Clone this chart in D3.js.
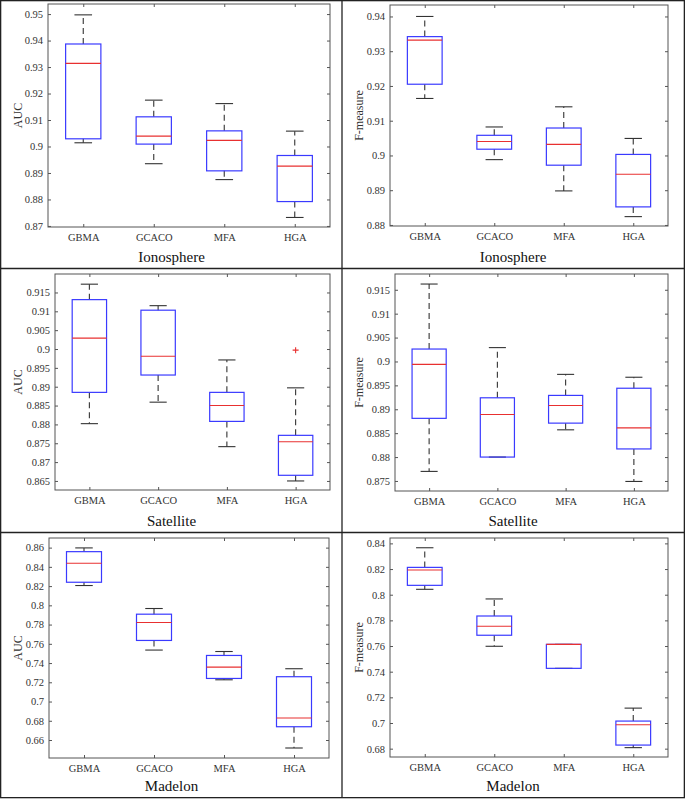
<!DOCTYPE html>
<html>
<head>
<meta charset="utf-8">
<script src="https://cdn.jsdelivr.net/npm/d3@7/dist/d3.min.js"></script>
<style>
  html, body { margin: 0; padding: 0; background: #fff; }
  svg { display: block; }
</style>
</head>
<body>
<script>
// ---------------- DATA ----------------
const categories = ["GBMA", "GCACO", "MFA", "HGA"];
// each entry: [lower whisker, Q1, median, Q3, upper whisker]
const ionosphereAUC = [[0.9014, 0.9029, 0.9314, 0.9387, 0.9497], [0.8935, 0.9009, 0.9039, 0.9112, 0.9175], [0.8875, 0.8908, 0.9023, 0.9059, 0.9162], [0.8732, 0.8792, 0.8926, 0.8966, 0.9058]];
const ionosphereF = [[0.9164, 0.9205, 0.9332, 0.9342, 0.9400], [0.8988, 0.9018, 0.9040, 0.9058, 0.9082], [0.8898, 0.8972, 0.9032, 0.9079, 0.9140], [0.8824, 0.8852, 0.8946, 0.9003, 0.9049]];
const satelliteAUC = [[0.8802, 0.8885, 0.9029, 0.9131, 0.9172], [0.8859, 0.8931, 0.8981, 0.9103, 0.9115], [0.8741, 0.8808, 0.8850, 0.8885, 0.8971], [0.8650, 0.8665, 0.8754, 0.8771, 0.8897]];
const satelliteAUCOutliers = [[], [], [], [0.8997]];
const satelliteF = [[0.8770, 0.8881, 0.8994, 0.9026, 0.9162], [0.8800, 0.8800, 0.8889, 0.8924, 0.9029], [0.8857, 0.8871, 0.8908, 0.8929, 0.8973], [0.8749, 0.8817, 0.8861, 0.8944, 0.8967]];
const madelonAUC = [[0.8206, 0.8240, 0.8437, 0.8558, 0.8597], [0.7535, 0.7635, 0.7822, 0.7908, 0.7967], [0.7226, 0.7240, 0.7358, 0.7479, 0.7520], [0.6517, 0.6738, 0.6829, 0.7258, 0.7341]];
const madelonF = [[0.8042, 0.8073, 0.8192, 0.8213, 0.8366], [0.7598, 0.7684, 0.7754, 0.7834, 0.7967], [0.7426, 0.7426, 0.7613, 0.7613, 0.7613], [0.6808, 0.6828, 0.6986, 0.7015, 0.7116]];
const noOutliers = [[], [], [], []];

const ticksIonoAUC = [0.87, 0.88, 0.89, 0.90, 0.91, 0.92, 0.93, 0.94, 0.95];
const labelsIonoAUC = ["0.87", "0.88", "0.89", "0.9", "0.91", "0.92", "0.93", "0.94", "0.95"];
const ticksIonoF = [0.88, 0.89, 0.90, 0.91, 0.92, 0.93, 0.94];
const labelsIonoF = ["0.88", "0.89", "0.9", "0.91", "0.92", "0.93", "0.94"];
const ticksSatAUC = [0.865, 0.870, 0.875, 0.880, 0.885, 0.890, 0.895, 0.900, 0.905, 0.910, 0.915];
const labelsSatAUC = ["0.865", "0.87", "0.875", "0.88", "0.885", "0.89", "0.895", "0.9", "0.905", "0.91", "0.915"];
const ticksSatF = [0.875, 0.880, 0.885, 0.890, 0.895, 0.900, 0.905, 0.910, 0.915];
const labelsSatF = ["0.875", "0.88", "0.885", "0.89", "0.895", "0.9", "0.905", "0.91", "0.915"];
const ticksMadAUC = [0.66, 0.68, 0.70, 0.72, 0.74, 0.76, 0.78, 0.80, 0.82, 0.84, 0.86];
const labelsMadAUC = ["0.66", "0.68", "0.7", "0.72", "0.74", "0.76", "0.78", "0.8", "0.82", "0.84", "0.86"];
const ticksMadF = [0.68, 0.70, 0.72, 0.74, 0.76, 0.78, 0.80, 0.82, 0.84];
const labelsMadF = ["0.68", "0.7", "0.72", "0.74", "0.76", "0.78", "0.8", "0.82", "0.84"];

const yDomains = [[0.8696, 0.9538], [0.8797, 0.9433], [0.8626, 0.9199], [0.8729, 0.9183], [0.6413, 0.8700], [0.6735, 0.8442]];

// ---------------- LAYOUT ----------------
const W = 685, H = 799;
const FONT = "'Liberation Serif', 'Times New Roman', serif";
const colX = [[1, 342], [342, 684]];
const rowY = [[0.5, 268.5], [268.5, 532.5], [532.5, 797.5]];

const panels = [
  { data: ionosphereAUC, out: noOutliers, ticks: ticksIonoAUC, labels: labelsIonoAUC, ylab: "AUC", title: "Ionosphere", col: 0, row: 0, plot: { l: 48, r: 330, t: 4, b: 227 } },
  { data: ionosphereF, out: noOutliers, ticks: ticksIonoF, labels: labelsIonoF, ylab: "F-measure", title: "Ionosphere", col: 1, row: 0, plot: { l: 390, r: 668, t: 5, b: 226 } },
  { data: satelliteAUC, out: satelliteAUCOutliers, ticks: ticksSatAUC, labels: labelsSatAUC, ylab: "AUC", title: "Satellite", col: 0, row: 1, plot: { l: 55, r: 330, t: 274, b: 490 } },
  { data: satelliteF, out: noOutliers, ticks: ticksSatF, labels: labelsSatF, ylab: "F-measure", title: "Satellite", col: 1, row: 1, plot: { l: 395, r: 668, t: 274, b: 491 } },
  { data: madelonAUC, out: noOutliers, ticks: ticksMadAUC, labels: labelsMadAUC, ylab: "AUC", title: "Madelon", col: 0, row: 2, plot: { l: 49, r: 329, t: 538, b: 758 } },
  { data: madelonF, out: noOutliers, ticks: ticksMadF, labels: labelsMadF, ylab: "F-measure", title: "Madelon", col: 1, row: 2, plot: { l: 390, r: 668, t: 538, b: 757 } }
];

const svg = d3.select("body").append("svg")
  .attr("width", W).attr("height", H)
  .attr("viewBox", `0 0 ${W} ${H}`);

svg.append("rect").attr("x", 0).attr("y", 0).attr("width", W).attr("height", H).attr("fill", "#fff");

const AXIS_COLOR = "#555";
const TEXT_COLOR = "#333";
const BOX_COLOR = "#3a3aff";
const MED_COLOR = "#e83030";
const WHISK_COLOR = "#333";

panels.forEach((p, idx) => {
  const P = p.plot;
  const g = svg.append("g");
  const x = d3.scalePoint().domain(categories).range([P.l, P.r]).padding(0.5);
  const y = d3.scaleLinear().domain(yDomains[idx]).range([P.b, P.t]);
  const step = x.step();
  const bw = step * 0.5;
  const cw = step * 0.25;

  // axes frame
  g.append("rect").attr("x", P.l).attr("y", P.t).attr("width", P.r - P.l).attr("height", P.b - P.t)
    .attr("fill", "#fff").attr("stroke", AXIS_COLOR).attr("stroke-width", 1);

  const styleAxis = sel => {
    sel.select(".domain").remove();
    sel.selectAll(".tick line").attr("stroke", AXIS_COLOR);
    sel.selectAll(".tick text").attr("fill", TEXT_COLOR).style("font-family", FONT).style("font-size", "10.5px");
  };

  g.append("g").attr("transform", `translate(${P.l},0)`)
    .call(d3.axisLeft(y).tickValues(p.ticks).tickFormat((d, i) => p.labels[i]).tickSize(-3).tickPadding(5))
    .call(styleAxis);
  g.append("g").attr("transform", `translate(${P.r},0)`)
    .call(d3.axisRight(y).tickValues(p.ticks).tickFormat("").tickSize(-3))
    .call(styleAxis);
  g.append("g").attr("transform", `translate(0,${P.b})`)
    .call(d3.axisBottom(x).tickSize(-3).tickPadding(6.5))
    .call(styleAxis);
  g.append("g").attr("transform", `translate(0,${P.t})`)
    .call(d3.axisTop(x).tickFormat("").tickSize(-3))
    .call(styleAxis);

  // boxes
  const boxes = g.selectAll("g.box").data(p.data.map((d, i) => ({ cat: categories[i], s: d, o: p.out[i] })))
    .enter().append("g").attr("class", "box");

  boxes.each(function (d) {
    const bg = d3.select(this);
    const cx = x(d.cat);
    const [lo, q1, med, q3, hi] = d.s;
    if (hi > q3) {
      bg.append("line").attr("x1", cx).attr("x2", cx).attr("y1", y(q3)).attr("y2", y(hi))
        .attr("stroke", WHISK_COLOR).attr("stroke-width", 1.1).attr("stroke-dasharray", "6,4");
    }
    if (lo < q1) {
      bg.append("line").attr("x1", cx).attr("x2", cx).attr("y1", y(q1)).attr("y2", y(lo))
        .attr("stroke", WHISK_COLOR).attr("stroke-width", 1.1).attr("stroke-dasharray", "6,4");
    }
    [hi, lo].forEach(v => {
      bg.append("line").attr("x1", cx - cw / 2).attr("x2", cx + cw / 2).attr("y1", y(v)).attr("y2", y(v))
        .attr("stroke", WHISK_COLOR).attr("stroke-width", 1.1);
    });
    bg.append("rect").attr("x", cx - bw / 2).attr("y", y(q3)).attr("width", bw).attr("height", Math.max(0.5, y(q1) - y(q3)))
      .attr("fill", "none").attr("stroke", BOX_COLOR).attr("stroke-width", 1.2);
    bg.append("line").attr("x1", cx - bw / 2).attr("x2", cx + bw / 2).attr("y1", y(med)).attr("y2", y(med))
      .attr("stroke", MED_COLOR).attr("stroke-width", 1.1);
    d.o.forEach(v => {
      const oy = y(v);
      bg.append("path").attr("d", `M${cx - 3},${oy}H${cx + 3}M${cx},${oy - 3}V${oy + 3}`)
        .attr("stroke", MED_COLOR).attr("stroke-width", 1.1).attr("fill", "none");
    });
  });

  // y label
  const cx0 = colX[p.col][0];
  const ylabX = cx0 + 21;
  const ylabY = (P.t + P.b) / 2;
  g.append("text").attr("transform", `translate(${ylabX},${ylabY}) rotate(-90)`)
    .attr("text-anchor", "middle").attr("fill", TEXT_COLOR)
    .style("font-family", FONT).style("font-size", "12px").text(p.ylab);

  // title below
  const cellMid = (colX[p.col][0] + colX[p.col][1]) / 2;
  g.append("text").attr("x", cellMid).attr("y", rowY[p.row][1] - 7)
    .attr("text-anchor", "middle").attr("fill", "#111")
    .style("font-family", FONT).style("font-size", "15px").text(p.title);
});

// table borders
const border = svg.append("g").attr("stroke", "#222").attr("stroke-width", 1.3).attr("fill", "none");
border.append("rect").attr("x", 0.65).attr("y", 0.65).attr("width", 683.7).attr("height", 797);
[268.5, 532.5].forEach(yy => border.append("line").attr("x1", 0).attr("x2", W).attr("y1", yy).attr("y2", yy));
border.append("line").attr("x1", 342).attr("x2", 342).attr("y1", 0).attr("y2", 798);
</script>
</body>
</html>
